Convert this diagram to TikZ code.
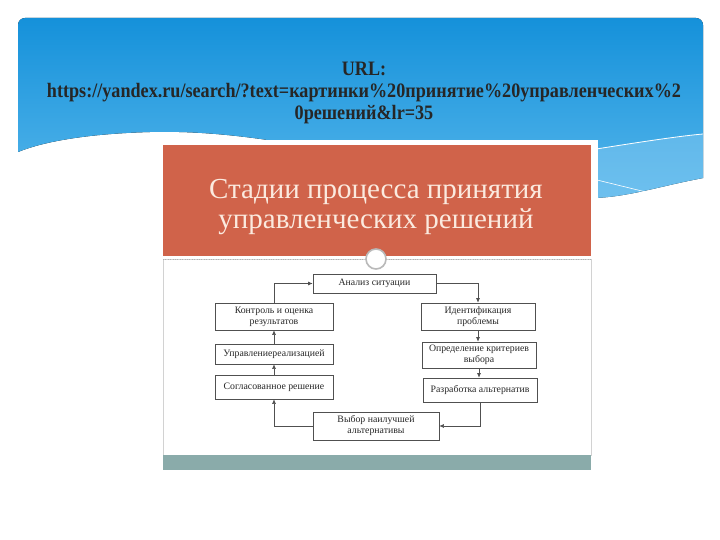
\documentclass[tikz,border=0pt]{standalone}
\usepackage{fontspec}
\setmainfont{Liberation Serif}
\newfontfamily\urlfont[FakeStretch=0.885]{Liberation Serif}
\usetikzlibrary{positioning,arrows.meta}
\definecolor{skytop}{HTML}{1591DA}
\definecolor{skybottom}{HTML}{55B6EB}
\definecolor{skylight}{HTML}{8CCDF3}
\definecolor{titlered}{HTML}{D0634A}
\definecolor{titletext}{HTML}{FBEADF}
\definecolor{footteal}{HTML}{8AABAA}
\definecolor{boxline}{HTML}{505050}

\begin{document}
\begin{tikzpicture}[
    x=1pt, y=-1pt,
    stage/.style={rectangle, draw=boxline, line width=0.7pt, fill=white, align=center,
        inner sep=1pt, text=black!85, font=\fontsize{9.8}{11}\selectfont},
    arrow/.style={-{Latex[length=4.5pt,width=4pt]}, line width=0.6pt, draw=boxline}
]
    \useasboundingbox (0,0) rectangle (720,540);
    \fill[white] (0,0) rectangle (720,540);

    % Blue background with wave
    \fill[top color=skytop, bottom color=skybottom]
        (18,152) [rounded corners=7pt] -- (18,18) -- (703,18) [sharp corners] -- (703,178)
        .. controls (660,186) and (625,198) .. (590,198)
        .. controls (450,188) and (300,128) .. (150,132)
        .. controls (80,134) and (40,143) .. (18,152) -- cycle;
    \fill[skylight, opacity=0.45] (590,150) .. controls (640,142) and (680,136) .. (703,134)
        -- (703,178) .. controls (660,186) and (625,198) .. (590,198) -- cycle;
    \draw[white, line width=0.8pt] (590,150) .. controls (640,142) and (680,136) .. (703,134);
    \draw[white, line width=0.6pt] (597,180) -- (650,193);

    % Source text
    \node[font=\urlfont\bfseries\fontsize{20.5}{22}\selectfont, text=black!85, align=center] (src) at (364,93)
        {URL:\\https://yandex.ru/search/?text=картинки\%20принятие\%20управленческих\%2\\0решений\&lr=35};

    % Slide
    \fill[white] (161,140) rectangle (598,471);
    \fill[titlered] (163,145) rectangle (591,256);
    \draw[gray!35] (163,259) rectangle (591,455);
    \draw[gray!60, dotted] (163,259) -- (591,259);
    \fill[footteal] (163,455) rectangle (591,470);
    \node[font=\fontsize{29}{30}\selectfont, text=titletext, align=center] (title) at (376,207)
        {Стадии процесса принятия\\управленческих решений};
    \node[circle, draw=gray!55, line width=1.6pt, fill=white, minimum size=20pt, inner sep=0pt] (knob) at (376,259) {};

    % Stages
    \node[stage, minimum width=123pt, minimum height=19pt] (analiz) at (374.5,283.5) {Анализ ситуации};
    \node[stage, minimum width=114pt, minimum height=27pt] (ident) at (478,316.5) {Идентификация\\проблемы};
    \node[stage, minimum width=114pt, minimum height=26pt] (opred) at (479,355) {Определение критериев\\выбора};
    \node[stage, minimum width=114pt, minimum height=24pt] (razrab) at (480,390) {Разработка альтернатив};
    \node[stage, minimum width=126pt, minimum height=28pt] (vybor) at (376,426) {Выбор наилучшей\\альтернативы};
    \node[stage, minimum width=118pt, minimum height=24pt] (soglas) at (274,387) {Согласованное решение};
    \node[stage, minimum width=118pt, minimum height=20pt] (upravl) at (274,354) {Управлениереализацией};
    \node[stage, minimum width=118pt, minimum height=27pt] (kontrol) at (274,316.5) {Контроль и оценка\\результатов};

    % Arrows
    \draw[arrow] (analiz.east) -| (ident.north);
    \draw[arrow] (ident.south) -- (ident.south |- opred.north);
    \draw[arrow] (opred.south) -- (opred.south |- razrab.north);
    \draw[arrow] (razrab.south) |- (vybor.east);
    \draw[arrow] (vybor.west) -| (soglas.south);
    \draw[arrow] (soglas.north) -- (upravl.south);
    \draw[arrow] (upravl.north) -- (kontrol.south);
    \draw[arrow] (kontrol.north) |- (analiz.west);
\end{tikzpicture}
\end{document}
